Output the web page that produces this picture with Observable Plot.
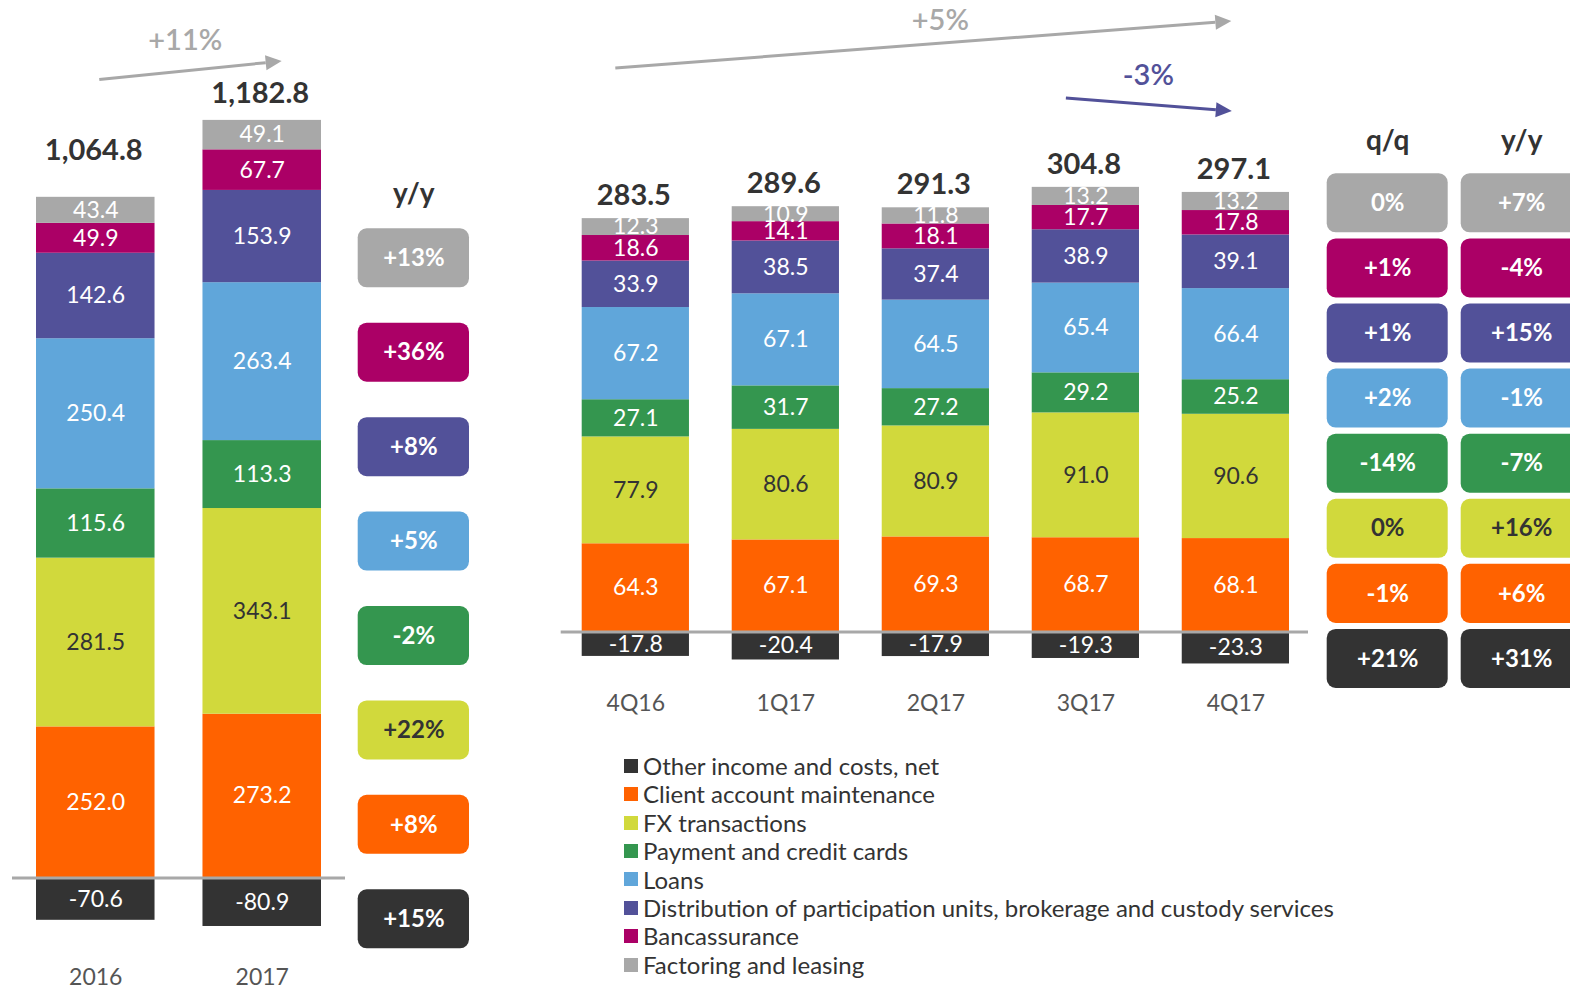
<!DOCTYPE html>
<html><head><meta charset="utf-8">
<script src="https://cdn.jsdelivr.net/npm/d3@7"></script>
<script src="https://cdn.jsdelivr.net/npm/@observablehq/plot@0.6"></script>
<style>
html,body{margin:0;padding:0;background:#fff;}
#chart{position:relative;width:1570px;height:989px;overflow:hidden;font-family:Lato,"Open Sans",sans-serif;}
#chart > svg{position:absolute;left:0;top:0;background:transparent;}
#legend{position:absolute;left:624px;top:752px;}
#legend svg{margin-right:5px !important;}
#legend div{line-height:27.4px;}
</style></head><body><div id="chart"><div id="legend"></div></div>
<script>
// ---------- data ----------
const categories = [
  "Other income and costs, net",
  "Client account maintenance",
  "FX transactions",
  "Payment and credit cards",
  "Loans",
  "Distribution of participation units, brokerage and custody services",
  "Bancassurance",
  "Factoring and leasing"
];
const colors = ["#333333","#ff6200","#d1d93c","#34964f","#60a6da","#525199","#ab0066","#a8a8a8"];
const darkTextCategory = "FX transactions";

const years = ["2016","2017"];
const annualOther = [-70.6, -80.9];
const annualClient = [252.0, 273.2];
const annualFX = [281.5, 343.1];
const annualPayment = [115.6, 113.3];
const annualLoans = [250.4, 263.4];
const annualDistribution = [142.6, 153.9];
const annualBancassurance = [49.9, 67.7];
const annualFactoring = [43.4, 49.1];
const annualTotals = [1064.8, 1182.8];
const annualYoY = ["+15%","+8%","+22%","-2%","+5%","+8%","+36%","+13%"];
const annualChange = "+11%";

const quarters = ["4Q16","1Q17","2Q17","3Q17","4Q17"];
const qOther = [-17.8, -20.4, -17.9, -19.3, -23.3];
const qClient = [64.3, 67.1, 69.3, 68.7, 68.1];
const qFX = [77.9, 80.6, 80.9, 91.0, 90.6];
const qPayment = [27.1, 31.7, 27.2, 29.2, 25.2];
const qLoans = [67.2, 67.1, 64.5, 65.4, 66.4];
const qDistribution = [33.9, 38.5, 37.4, 38.9, 39.1];
const qBancassurance = [18.6, 14.1, 18.1, 17.7, 17.8];
const qFactoring = [12.3, 10.9, 11.8, 13.2, 13.2];
const qTotals = [283.5, 289.6, 291.3, 304.8, 297.1];
const qQoQ = ["+21%","-1%","0%","-14%","+2%","+1%","+1%","0%"];
const qYoY = ["+31%","+6%","+16%","-7%","-1%","+15%","-4%","+7%"];
const qChangeYear = "+5%";
const qChangeQuarter = "-3%";
const badgeCols = ["q/q","y/y"];

// ---------- build tables ----------
const annualSeries = [annualOther, annualClient, annualFX, annualPayment, annualLoans, annualDistribution, annualBancassurance, annualFactoring];
const qSeries = [qOther, qClient, qFX, qPayment, qLoans, qDistribution, qBancassurance, qFactoring];
const annualRows = categories.flatMap((c, i) => years.map((p, j) => ({period: p, category: c, value: annualSeries[i][j]})));
const qRows = categories.flatMap((c, i) => quarters.map((p, j) => ({period: p, category: c, value: qSeries[i][j]})));
const posTop = (series, j) => d3.sum(series, s => Math.max(0, s[j]));
const annualTop = years.map((_, j) => posTop(annualSeries, j));
const qTop = quarters.map((_, j) => posTop(qSeries, j));
const fmt1 = v => v.toFixed(1);
const fmtTot = d3.format(",.1f");
const colorScale = {domain: categories, range: colors};
const catsTopDown = categories.slice().reverse();
const FONT = "Lato, 'Open Sans', sans-serif";
const isDark = d => d.category === darkTextCategory;
const notDark = d => d.category !== darkTextCategory;

function headSymbol(angleDeg, len, wid) {
  const a = angleDeg * Math.PI / 180, c = Math.cos(a), s = Math.sin(a);
  const pt = (x, y) => [x * c - y * s, x * s + y * c];
  return {draw(ctx) {
    const p1 = pt(len, 0), p2 = pt(0, -wid / 2), p3 = pt(0, wid / 2);
    ctx.moveTo(p1[0], p1[1]); ctx.lineTo(p2[0], p2[1]); ctx.lineTo(p3[0], p3[1]); ctx.closePath();
  }};
}

// segment labels: white, except dark on the yellow-green series (all rows stacked, text blanked)
function segmentLabels(rows) {
  return [
    Plot.text(rows, Plot.stackY({x: "period", y: "value", text: d => notDark(d) ? fmt1(d.value) : "", fill: "white", fontSize: 23})),
    Plot.text(rows, Plot.stackY({x: "period", y: "value", text: d => isDark(d) ? fmt1(d.value) : "", fill: "#333", fontSize: 23}))
  ];
}
function badgeLabels(rows) {
  return [
    Plot.text(rows.filter(notDark), {x: "col", y: "category", text: "label", fill: "white", fontSize: 24, fontWeight: "bold"}),
    Plot.text(rows.filter(isDark), {x: "col", y: "category", text: "label", fill: "#333", fontSize: 24, fontWeight: "bold"})
  ];
}

const chart = document.getElementById("chart");
const W = 1570, H = 989;

// ---------- annual bars ----------
const annualTotalDy = [-47, -27];
const annualPlot = Plot.plot({
  width: W, height: H,
  marginLeft: 36, marginRight: W - 321, marginTop: 0, marginBottom: H - 955,
  style: {fontFamily: FONT, background: "transparent"},
  x: {domain: years, paddingInner: 0.288, paddingOuter: 0, round: false},
  y: {domain: [-129.3, 1463.7], axis: null},
  color: colorScale,
  marks: [
    Plot.barY(annualRows, {x: "period", y: "value", fill: "category"}),
    ...segmentLabels(annualRows),
    Plot.ruleY([0], {stroke: "#a8a8a8", strokeWidth: 3, insetLeft: -24, insetRight: -24}),
    ...years.map((yr, j) => Plot.text([yr], {x: d => d, y: () => annualTop[j], text: () => fmtTot(annualTotals[j]), dy: annualTotalDy[j], dx: -2, fontSize: 29, fontWeight: "bold", fill: "#333"})),
    Plot.axisX({anchor: "bottom", tickSize: 0, tickPadding: 13, fontSize: 23, color: "#555", label: null}),
    // +11% arrow
    Plot.link([annualChange], {x1: () => "2016", x2: () => "2017", y1: () => 1332, y2: () => 1360, dx: 3.5, stroke: "#a8a8a8", strokeWidth: 3}),
    Plot.dot([annualChange], {x: () => "2017", y: () => 1360, dx: 3.5, r: 5, symbol: headSymbol(-5.7, 16, 15), fill: "#a8a8a8", stroke: "none"}),
    Plot.text([annualChange], {x: () => "2016", y: () => 1396, dx: 89.5, text: d => d, fontSize: 29, fontWeight: 600, fill: "#a8a8a8"})
  ]
});
chart.appendChild(annualPlot);

// ---------- annual y/y badges ----------
const annualBadges = categories.map((c, i) => ({category: c, col: "y/y", label: annualYoY[i]}));
const annualBadgePlot = Plot.plot({
  width: W, height: H,
  marginLeft: 357.7, marginRight: W - 469, marginTop: 228.3, marginBottom: H - 948.3,
  style: {fontFamily: FONT, background: "transparent"},
  x: {domain: ["y/y"], padding: 0, round: false},
  y: {domain: catsTopDown, paddingInner: 0.375, paddingOuter: 0, round: false, axis: null},
  color: colorScale,
  marks: [
    Plot.cell(annualBadges, {x: "col", y: "category", fill: "category", rx: 9}),
    ...badgeLabels(annualBadges),
    Plot.axisX({anchor: "top", tickSize: 0, tickPadding: 26, fontSize: 28, fontWeight: "bold", color: "#333", label: null})
  ]
});
chart.appendChild(annualBadgePlot);

// ---------- quarterly bars ----------
const qPlot = Plot.plot({
  width: W, height: H,
  marginLeft: 581.7, marginRight: W - 1289, marginTop: 0, marginBottom: H - 680,
  style: {fontFamily: FONT, background: "transparent"},
  x: {domain: quarters, paddingInner: 0.285, paddingOuter: 0, round: false},
  y: {domain: [-35.35, 460.3], axis: null},
  color: colorScale,
  marks: [
    Plot.barY(qRows, {x: "period", y: "value", fill: "category"}),
    ...segmentLabels(qRows),
    Plot.ruleY([0], {stroke: "#a8a8a8", strokeWidth: 3, insetLeft: -21, insetRight: -19}),
    Plot.text(quarters, {x: d => d, y: (d, j) => qTop[j], text: (d, j) => fmtTot(qTotals[j]), dy: -23, dx: -2, fontSize: 29, fontWeight: "bold", fill: "#333"}),
    Plot.axisX({anchor: "bottom", tickSize: 0, tickPadding: 14, fontSize: 23, color: "#555", label: null}),
    // +5% arrow (4Q16 -> 4Q17)
    Plot.link([qChangeYear], {x1: () => "4Q16", x2: () => "4Q17", y1: () => 411.1, y2: () => 444.5, dx: -20.5, stroke: "#a8a8a8", strokeWidth: 3}),
    Plot.dot([qChangeYear], {x: () => "4Q17", y: () => 444.5, dx: -20.5, r: 5, symbol: headSymbol(-4.35, 16, 15), fill: "#a8a8a8", stroke: "none"}),
    Plot.text([qChangeYear], {x: () => "2Q17", y: () => 445.3, dx: 4.5, text: d => d, fontSize: 29, fontWeight: 600, fill: "#a8a8a8"}),
    // -3% arrow (3Q17 -> 4Q17)
    Plot.link([qChangeQuarter], {x1: () => "3Q17", x2: () => "4Q17", y1: () => 389.2, y2: () => 380.6, dx: -20, stroke: "#525199", strokeWidth: 3}),
    Plot.dot([qChangeQuarter], {x: () => "4Q17", y: () => 380.6, dx: -20, r: 5, symbol: headSymbol(4.42, 16, 15), fill: "#525199", stroke: "none"}),
    Plot.text([qChangeQuarter], {x: () => "3Q17", y: () => 405.2, dx: 62.5, text: d => d, fontSize: 29, fontWeight: 600, fill: "#525199"})
  ]
});
chart.appendChild(qPlot);

// ---------- quarterly q/q and y/y badges ----------
const qBadges = categories.flatMap((c, i) => [
  {category: c, col: "q/q", label: qQoQ[i]},
  {category: c, col: "y/y", label: qYoY[i]}
]);
const qBadgePlot = Plot.plot({
  width: W, height: H,
  marginLeft: 1326.7, marginRight: W - 1581.7, marginTop: 173.3, marginBottom: H - 688,
  style: {fontFamily: FONT, background: "transparent"},
  x: {domain: badgeCols, paddingInner: 0.097, paddingOuter: 0, round: false},
  y: {domain: catsTopDown, paddingInner: 0.093, paddingOuter: 0, round: false, axis: null},
  color: colorScale,
  marks: [
    Plot.cell(qBadges, {x: "col", y: "category", fill: "category", rx: 9}),
    ...badgeLabels(qBadges),
    Plot.axisX({anchor: "top", tickSize: 0, tickPadding: 24, fontSize: 28, fontWeight: "bold", color: "#333", label: null})
  ]
});
chart.appendChild(qBadgePlot);

// ---------- legend ----------
const legend = Plot.legend({
  color: colorScale,
  legend: "swatches",
  columns: 1,
  swatchSize: 14,
  style: {fontFamily: FONT, fontSize: "24px", color: "#333", background: "transparent"}
});
document.getElementById("legend").appendChild(legend);
</script>
</body></html>
